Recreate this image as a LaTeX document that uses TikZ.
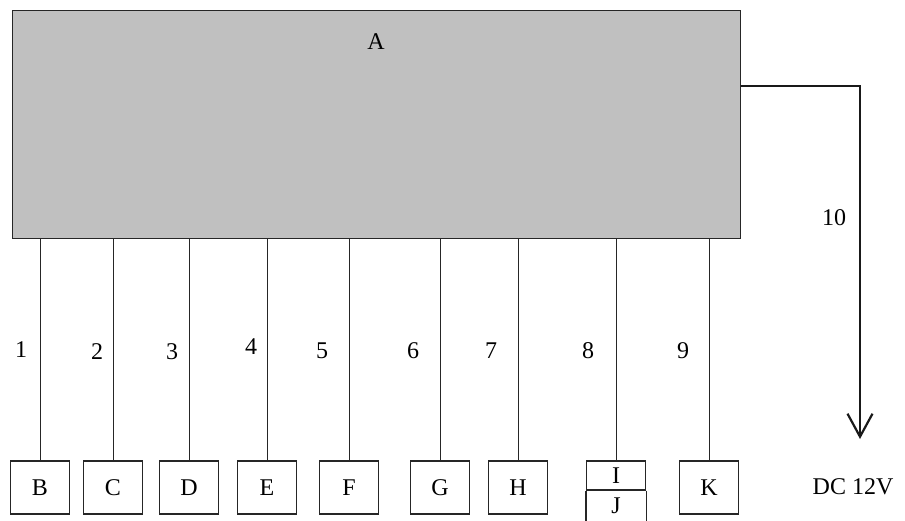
\documentclass[tikz,border=0pt]{standalone}
\usepackage{fontspec}
\setmainfont{Liberation Serif}
\usetikzlibrary{arrows.meta}
\definecolor{boxgray}{HTML}{C0C0C0}
\begin{document}
\begin{tikzpicture}[x=1pt,y=-1pt,
  font=\fontsize{24}{28}\selectfont,
  mainbox/.style={draw=black!85,line width=1.4pt,fill=boxgray,inner sep=0pt,
    minimum width=728pt,minimum height=228pt,anchor=north west},
  unitbox/.style={draw=black!85,line width=1.1pt,inner sep=0pt,
    minimum width=59pt,minimum height=53pt},
  halfbox/.style={draw=black!85,line width=1.1pt,inner sep=0pt,
    minimum width=59pt,minimum height=29pt},
  wire/.style={line width=1pt,black!85},
  lbl/.style={inner sep=0pt}]
\useasboundingbox (0,0) rectangle (905,521);
\node[mainbox] (A) at (12,10) {};
\node[lbl] (Alab) at (376,42) {A};
% bottom boxes
\node[unitbox] (B) at (40,487.5) {B};
\node[unitbox] (C) at (113,487.5) {C};
\node[unitbox] (D) at (189,487.5) {D};
\node[unitbox] (E) at (267,487.5) {E};
\node[unitbox] (F) at (349,487.5) {F};
\node[unitbox] (G) at (440,487.5) {G};
\node[unitbox] (H) at (518,487.5) {H};
\node[halfbox] (I) at (616,475.5) {I};
\draw[black!85,line width=1.1pt] (I.south west) -- ++(0,40) (I.south east) -- ++(0,40);
\node[lbl] (J) at (616,506) {J};
\node[unitbox] (K) at (709,487.5) {K};
% wires
\foreach \n in {B,C,D,E,F,G,H,I,K}
  \draw[wire] (\n.north) -- (\n.north |- A.south);
% labels
\node[lbl] (l1) at (21,350) {1};
\node[lbl] (l2) at (97,352) {2};
\node[lbl] (l3) at (172,352) {3};
\node[lbl] (l4) at (251,347) {4};
\node[lbl] (l5) at (322,351) {5};
\node[lbl] (l6) at (413,351) {6};
\node[lbl] (l7) at (491,351) {7};
\node[lbl] (l8) at (588,351) {8};
\node[lbl] (l9) at (683,351) {9};
\node[lbl] (l10) at (834,218) {10};
% power output
\coordinate (aout) at ([yshift=-76pt]A.north east);
\coordinate (corner) at (860,86);
\coordinate (tip) at (860,439);
\draw[line width=2.2pt,black!90,-{Straight Barb[length=23pt,width=25pt]}] (aout) -- (corner) -- (tip);
\node[lbl] (dc) at (853,487) {DC 12V};
\end{tikzpicture}
\end{document}
